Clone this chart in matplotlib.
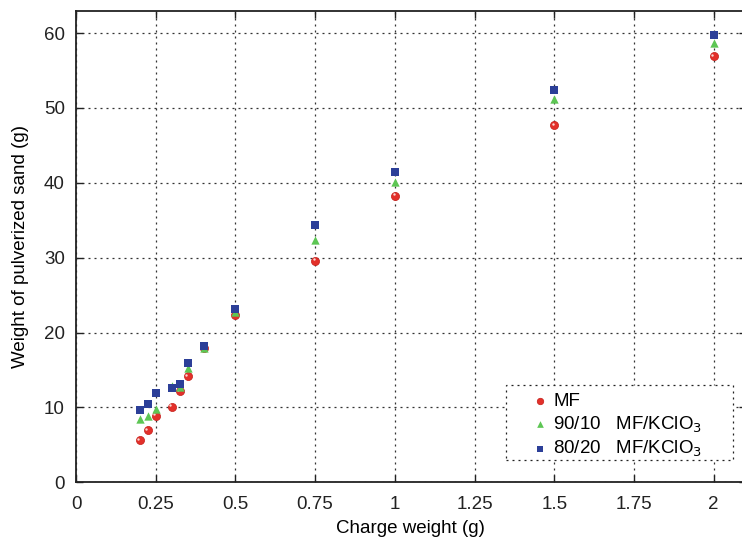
import matplotlib

matplotlib.use("Agg")
import matplotlib.pyplot as plt
import matplotlib.transforms as mtransforms
from matplotlib.patches import Rectangle

plt.rcParams["font.family"] = ["Liberation Sans", "DejaVu Sans"]

# charge weight (g)
charge = [0.2, 0.225, 0.25, 0.3, 0.325, 0.35, 0.4, 0.5, 0.75, 1.0, 1.5, 2.0]
# weight of pulverized sand (g)
sand_mf = [5.6, 7.0, 8.9, 10.1, 12.2, 14.2, 18.0, 22.4, 29.6, 38.3, 47.7, 56.9]
sand_90_10 = [8.5, 8.9, 9.8, 12.8, 12.7, 15.2, 18.0, 22.8, 32.4, 40.1, 51.2, 58.6]
sand_80_20 = [9.6, 10.4, 11.9, 12.6, 13.1, 15.9, 18.2, 23.2, 34.3, 41.4, 52.4, 59.7]

xticks = [0, 0.25, 0.5, 0.75, 1, 1.25, 1.5, 1.75, 2]
xticklabels = ["0", "0.25", "0.5", "0.75", "1", "1.25", "1.5", "1.75", "2"]
yticks = [0, 10, 20, 30, 40, 50, 60]

W, H = 742, 541
fig = plt.figure(figsize=(W / 100, H / 100), dpi=100)
# axes run past the right edge of the image, as in the original
ax = fig.add_axes([76 / W, 1 - 482.3 / H, (745.5 - 76) / W, (482.3 - 11) / H])

ax.scatter(charge, sand_mf, s=34, marker="o", color="#e3302a",
           edgecolor="#c41d18", linewidth=0.5, zorder=3, label="MF")
# little specular highlight on the red spheres
hl = mtransforms.offset_copy(ax.transData, fig=fig, x=-1.3, y=1.3, units="dots")
ax.scatter(charge, sand_mf, s=3, marker="o", color="#f8d8d4", linewidth=0,
           transform=hl, zorder=3.1)
ax.scatter(charge, sand_90_10, s=36, marker="^", color="#5dc654",
           linewidth=0, zorder=4, label="90/10   MF/KClO$_3$")
ax.scatter(charge, sand_80_20, s=28, marker="s", color="#2c3f98",
           linewidth=0, zorder=5, label="80/20   MF/KClO$_3$")

ax.set_xlim(0, 2.1)
ax.set_ylim(0, 62.94)
ax.set_xticks(xticks)
ax.set_xticklabels(xticklabels)
ax.set_yticks(yticks)
ax.tick_params(direction="in", length=5, width=1, labelsize=13.5,
               top=True, right=True, pad=8, colors="#222222")
ax.tick_params(axis="x", pad=10)
for s in ax.spines.values():
    s.set_linewidth(1.3)
    s.set_color("#222222")

ax.grid(True, color="#333333", linestyle=(0, (1.6, 3.2)), linewidth=0.9)
ax.set_axisbelow(True)

ax.set_xlabel("Charge weight (g)", fontsize=13.5, labelpad=5)
ax.set_ylabel("Weight of pulverized sand (g)", fontsize=13.5, labelpad=11)

# dotted legend frame, drawn separately so the padding can match the original
ax.add_patch(Rectangle((0.642, 0.0473), 0.339, 0.159, transform=ax.transAxes,
                       facecolor="white", edgecolor="#222222", linewidth=0.9,
                       linestyle=(0, (1.6, 3.2)), zorder=6, clip_on=False))
leg = ax.legend(loc="upper left", bbox_to_anchor=(0.679, 0.190),
                fontsize=13.5, frameon=False, borderpad=0, borderaxespad=0,
                handletextpad=0.2, handlelength=1.0, labelspacing=0.24,
                scatterpoints=1, markerscale=0.8)
leg.set_zorder(7)

fig.savefig("out.png", dpi=100)
